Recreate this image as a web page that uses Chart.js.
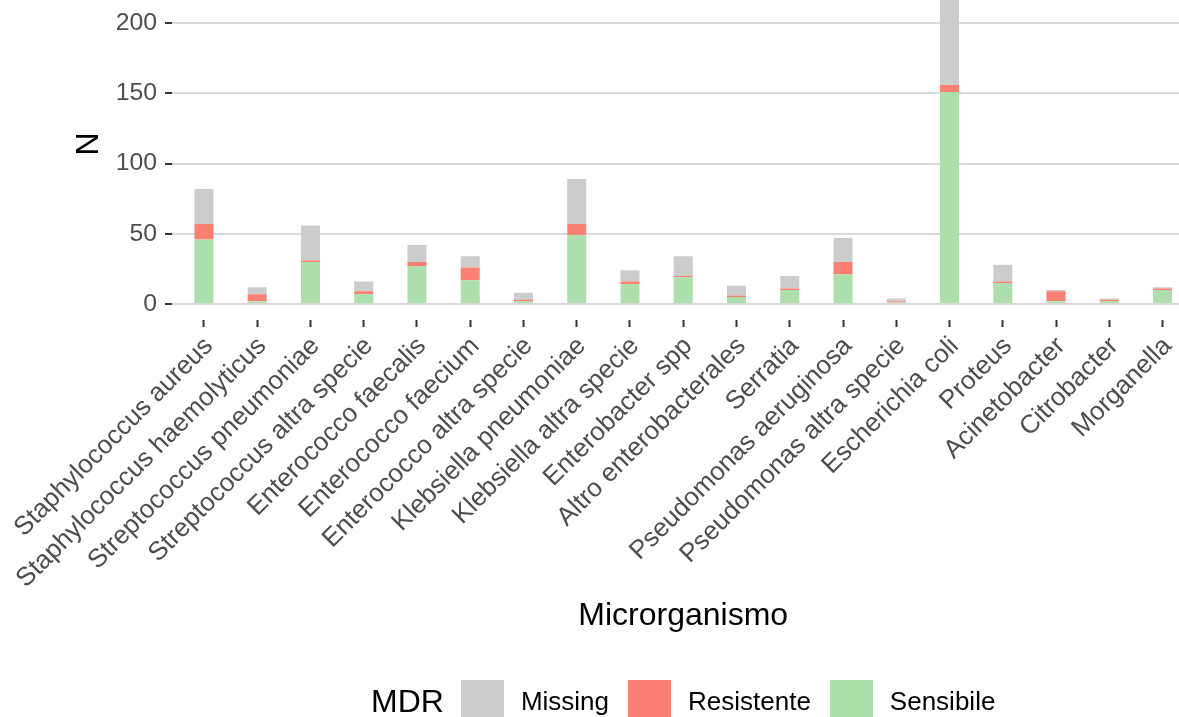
<!DOCTYPE html>
<html>
<head>
<meta charset="utf-8">
<script src="https://cdn.jsdelivr.net/npm/chart.js@4"></script>
<style>
  html, body { margin: 0; padding: 0; background: #fff; }
  #wrap { position: relative; width: 1179px; height: 717px; overflow: hidden; }
  #chart { position: absolute; left: 0; top: -32px; }
  #legend {
    position: absolute; left: 371px; top: 680px;
    display: flex; align-items: center; white-space: nowrap;
    font-family: 'Liberation Sans', Arial, sans-serif; color: #000;
  }
  #legend .title { font-size: 32px; margin-right: 17px; }
  #legend .box { width: 43px; height: 43px; margin-right: 17px; }
  #legend .lab { font-size: 26px; margin-right: 19px; }
</style>
</head>
<body>
<div id="wrap">
  <canvas id="chart" width="1200" height="749"></canvas>
  <div id="legend"></div>
</div>
<script>
const categories = [
  'Staphylococcus aureus', 'Staphylococcus haemolyticus', 'Streptococcus pneumoniae',
  'Streptococcus altra specie', 'Enterococco faecalis', 'Enterococco faecium',
  'Enterococco altra specie', 'Klebsiella pneumoniae', 'Klebsiella altra specie',
  'Enterobacter spp', 'Altro enterobacterales', 'Serratia', 'Pseudomonas aeruginosa',
  'Pseudomonas altra specie', 'Escherichia coli', 'Proteus', 'Acinetobacter',
  'Citrobacter', 'Morganella'
];
const sensibile  = [46, 2, 30, 7, 27, 17, 2, 49, 14, 19, 5, 10, 21, 1, 151, 15, 2, 2, 10];
const resistente = [11, 5, 1, 2, 3, 9, 1, 8, 2, 1, 1, 1, 9, 1, 5, 1, 7, 1, 1];
const missing    = [25, 5, 25, 7, 12, 8, 5, 32, 8, 14, 7, 9, 17, 2, 72, 12, 1, 1, 1];
const yTicks = [0, 50, 100, 150, 200];

const legendTitle = 'MDR';
const legendOrder = ['Missing', 'Resistente', 'Sensibile'];
const colors = { Missing: '#CCCCCC', Resistente: '#FA8072', Sensibile: '#ADDFAD' };

const font = "'Liberation Sans', Arial, sans-serif";

function toPoints(arr) {
  return arr.map((v, i) => ({ x: i, y: v }));
}

// stack order: first dataset sits at the bottom
const datasets = [
  { label: 'Sensibile', data: toPoints(sensibile), backgroundColor: colors.Sensibile },
  { label: 'Resistente', data: toPoints(resistente), backgroundColor: colors.Resistente },
  { label: 'Missing', data: toPoints(missing), backgroundColor: colors.Missing }
];

new Chart(document.getElementById('chart'), {
  type: 'bar',
  data: { datasets: datasets },
  options: {
    responsive: false,
    animation: false,
    layout: { padding: { left: 0, right: 5.5, top: 0, bottom: 82 } },
    datasets: { bar: { categoryPercentage: 1, barPercentage: 0.357, borderWidth: 0 } },
    plugins: { legend: { display: false }, tooltip: { enabled: false } },
    scales: {
      x: {
        type: 'linear',
        stacked: true,
        offset: false,
        min: -0.6,
        max: 18.6,
        afterBuildTicks: s => { s.ticks = categories.map((c, i) => ({ value: i })); },
        afterFit: s => { s.height = 315; s.paddingLeft = 0; s.paddingRight = 0; },
        border: { display: false },
        grid: { offset: false, drawOnChartArea: false, color: 'rgba(0,0,0,0)',
                tickColor: '#333333', tickLength: 7, tickWidth: 2 },
        ticks: {
          autoSkip: false, minRotation: 45, maxRotation: 45, padding: 4, labelOffset: 5,
          color: '#4D4D4D', font: { family: font, size: 26 },
          callback: (v, i) => categories[i]
        },
        title: { display: true, text: 'Microrganismo', color: '#000', padding: 0,
                 font: { family: font, size: 32, lineHeight: 1.2 } }
      },
      y: {
        stacked: true,
        min: -11.4,
        max: 239.4,
        afterBuildTicks: s => { s.ticks = yTicks.map(v => ({ value: v })); },
        afterFit: s => { s.width = 172; s.paddingTop = 0; s.paddingBottom = 0; },
        border: { display: false },
        grid: { color: '#D9D9D9', lineWidth: 2, tickColor: '#333333', tickLength: 7, tickWidth: 2 },
        ticks: { padding: 8, color: '#4D4D4D', font: { family: font, size: 24.8 } },
        title: { display: true, text: 'N', color: '#000', padding: { top: 70, bottom: 0 },
                 font: { family: font, size: 32, lineHeight: 1.2 } }
      }
    }
  }
});

const legend = document.getElementById('legend');
const t = document.createElement('span');
t.className = 'title';
t.textContent = legendTitle;
legend.appendChild(t);
legendOrder.forEach(name => {
  const b = document.createElement('span');
  b.className = 'box';
  b.style.background = colors[name];
  legend.appendChild(b);
  const l = document.createElement('span');
  l.className = 'lab';
  l.textContent = name;
  legend.appendChild(l);
});
</script>
</body>
</html>
